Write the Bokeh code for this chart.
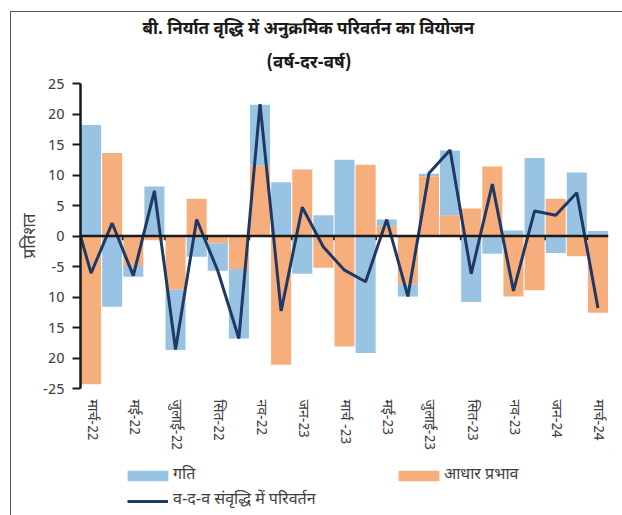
from bokeh.plotting import figure
from bokeh.models import (Range1d, LinearAxis, FixedTicker, Legend, LegendItem,
                          Title, ColumnDataSource, Span)
from bokeh.layouts import column
from bokeh.embed import file_html
from bokeh.resources import INLINE

months = ["मार्च-22", "अप्रै-22", "मई-22", "जून-22", "जुलाई-22", "अग-22", "सित-22",
          "अक्टू-22", "नव-22", "दिस-22", "जन-23", "फर-23", "मार्च -23", "अप्रै-23",
          "मई-23", "जून-23", "जुलाई-23", "अग-23", "सित-23", "अक्टू-23", "नव-23",
          "दिस-23", "जन-24", "फर-24", "मार्च-24"]
momentum = [18.2, -11.6, -1.8, 8.1, -9.9, -3.4, -4.5, -11.4, 10.0, 8.8, -6.2, 3.4,
            12.5, -19.2, 1.0, -1.9, 0.4, 10.6, -10.8, -2.9, 0.9, 12.8, -2.8, 10.4, 0.8]
base_effect = [-24.3, 13.6, -4.9, -0.7, -8.8, 6.1, -1.2, -5.4, 11.5, -21.1, 10.9, -5.2,
               -18.1, 11.7, 1.7, -8.0, 9.8, 3.4, 4.5, 11.4, -9.9, -8.9, 6.1, -3.3, -12.6]
yoy_change = [-6.1, 2.1, -6.5, 7.4, -18.6, 2.7, -5.7, -16.8, 21.6, -12.3, 4.7, -1.8,
              -5.6, -7.5, 2.7, -9.9, 10.3, 14.1, -6.2, 8.5, -9.0, 4.1, 3.4, 7.1, -11.8]
y_ticks = [-25, -20, -15, -10, -5, 0, 5, 10, 15, 20, 25]
y_tick_labels = ["-25", "20", "15", "10", "-5", "0", "5", "10", "15", "20", "25"]

title1 = "बी. निर्यात वृद्धि में अनुक्रमिक परिवर्तन का वियोजन"
title2 = "(वर्ष-दर-वर्ष)"
y_title = "प्रतिशत"
lbl_mom = "गति"
lbl_base = "आधार प्रभाव"
lbl_line = "व-द-व संवृद्धि में परिवर्तन"

BLUE = "#98C3E3"
ORANGE = "#F7AE7D"
NAVY = "#1F3864"
DARK = "#1a1a1a"
GREY = "#404040"
FONT = "Noto Sans Devanagari, Noto Sans, sans-serif"

n = len(months)
xs = list(range(n))
# stacked: base effect from zero, momentum stacked on it when signs agree
o_bot = [0.0] * n
o_top = base_effect[:]
b_bot = [b if (b > 0) == (m > 0) else 0.0 for m, b in zip(momentum, base_effect)]
b_top = [bb + m for bb, m in zip(b_bot, momentum)]
bounds = [k - 0.5 for k in range(0, n, 2)]

p = figure(width=611, height=443, output_backend="svg", toolbar_location=None,
           x_range=Range1d(-0.5, n - 0.5), y_range=Range1d(-25, 25),
           min_border_left=69, min_border_right=14, min_border_top=71,
           min_border_bottom=67, x_axis_location=None, y_axis_location=None)
p.grid.visible = False
p.outline_line_color = None

src = ColumnDataSource(dict(x=xs, ob=o_bot, ot=o_top, bb=b_bot, bt=b_top))
r_base = p.vbar(x="x", bottom="ob", top="ot", width=0.95, source=src,
                fill_color=ORANGE, line_color=None)
r_mom = p.vbar(x="x", bottom="bb", top="bt", width=0.95, source=src,
               fill_color=BLUE, line_color=None)

# zero line and its tick marks at every second category boundary
p.add_layout(Span(location=0, dimension="width", line_color=DARK, line_width=2.5,
                  level="glyph"))
p.segment(x0=bounds, y0=[0] * len(bounds), x1=bounds, y1=[-0.7] * len(bounds),
          line_color=DARK, line_width=1.5)

r_line = p.line([-0.5] + xs, [0] + yoy_change, line_color=NAVY, line_width=3)

# bottom labels
axb = LinearAxis(ticker=FixedTicker(ticks=xs[::2]),
                 major_label_overrides={i: months[i] for i in xs[::2]},
                 axis_line_color=None, major_tick_line_color=None,
                 minor_tick_line_color=None, major_label_orientation="vertical",
                 major_label_text_font=FONT, major_label_text_font_size="14px",
                 major_label_text_color=GREY, major_label_standoff=5)
p.add_layout(axb, "below")

axy = LinearAxis(ticker=FixedTicker(ticks=y_ticks),
                 major_label_overrides=dict(zip(y_ticks, y_tick_labels)),
                 axis_line_color=DARK, axis_line_width=2.5,
                 major_tick_line_color=DARK, major_tick_line_width=2,
                 major_tick_out=8, major_tick_in=0, minor_tick_line_color=None,
                 major_label_text_font=FONT, major_label_text_font_size="15px",
                 major_label_text_color=GREY, major_label_standoff=8,
                 axis_label=y_title, axis_label_text_font=FONT,
                 axis_label_text_font_size="17px", axis_label_text_font_style="normal",
                 axis_label_text_color=GREY, axis_label_standoff=-2)
p.add_layout(axy, "left")

p.add_layout(Title(text=title2, align="left", text_font=FONT,
                   text_font_size="17px", text_font_style="bold",
                   text_color=DARK, standoff=18, offset=186), "above")
p.add_layout(Title(text=title1, align="left", text_font=FONT,
                   text_font_size="17px", text_font_style="bold",
                   text_color=DARK, standoff=1, offset=62), "above")

# legend strip
pl = figure(width=611, height=60, output_backend="svg", toolbar_location=None,
            x_range=Range1d(0, 1), y_range=Range1d(0, 1),
            min_border_left=69, min_border_right=14, min_border_top=0,
            min_border_bottom=0, x_axis_location=None, y_axis_location=None)
pl.grid.visible = False
pl.outline_line_color = None
# swatch-only renderers, kept outside the visible range
l_mom = pl.vbar(x=[5], top=[5], bottom=[4], width=0.5, fill_color=BLUE, line_color=None)
l_base = pl.vbar(x=[5], top=[5], bottom=[4], width=0.5, fill_color=ORANGE, line_color=None)
l_line = pl.line(x=[5, 6], y=[5, 5], line_color=NAVY, line_width=3)

leg_common = dict(border_line_color=None, background_fill_alpha=0, padding=0,
                  margin=0, spacing=5, label_text_font=FONT,
                  label_text_font_size="16px", label_text_color=GREY)
leg1 = Legend(items=[LegendItem(label=lbl_mom, renderers=[l_mom])],
              location=(42, 29), glyph_width=51, glyph_height=13, label_standoff=0,
              **leg_common)
leg3 = Legend(items=[LegendItem(label=lbl_line, renderers=[l_line])],
              location=(47, 4), glyph_width=41, glyph_height=10, label_standoff=5,
              **leg_common)
leg2 = Legend(items=[LegendItem(label=lbl_base, renderers=[l_base])],
              location=(313, 29), glyph_width=51, glyph_height=13, label_standoff=0,
              **leg_common)
pl.add_layout(leg1, "center")
pl.add_layout(leg2, "center")
pl.add_layout(leg3, "center")

layout = column(p, pl, spacing=0)
layout.styles = {"border-left": "1px solid #555", "border-top": "1px solid #555",
                 "margin-left": "10px", "margin-top": "11px"}

open("out.html", "w").write(file_html(layout, INLINE))
